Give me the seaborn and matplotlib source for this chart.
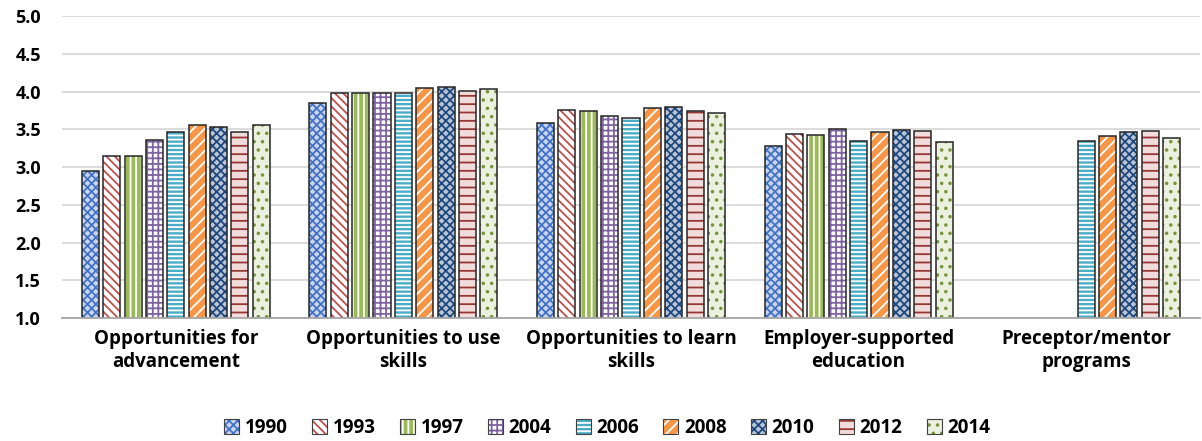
import numpy as np
import pandas as pd
import seaborn as sns
import matplotlib.pyplot as plt
from matplotlib.patches import Patch
from matplotlib.colors import to_rgba

# chart data
categories = ["Opportunities for\nadvancement", "Opportunities to use\nskills",
              "Opportunities to learn\nskills", "Employer-supported\neducation",
              "Preceptor/mentor\nprograms"]
years = ["1990", "1993", "1997", "2004", "2006", "2008", "2010", "2012", "2014"]
advancement = [2.95, 3.15, 3.15, 3.36, 3.47, 3.55, 3.53, 3.47, 3.56]
use_skills = [3.85, 3.98, 3.98, 3.98, 3.98, 4.04, 4.06, 4.01, 4.03]
learn_skills = [3.58, 3.75, 3.74, 3.67, 3.65, 3.78, 3.79, 3.74, 3.72]
employer_edu = [3.28, 3.44, 3.42, 3.50, 3.35, 3.46, 3.49, 3.48, 3.33]
mentor = [np.nan, np.nan, np.nan, np.nan, 3.34, 3.41, 3.46, 3.48, 3.39]

# look of each series: face colour, hatch colour, hatch
styles = {
    "1990": ("#C9D6EE", "#4472C4", "xxxx"),
    "1993": ("white", "#C0504D", "\\\\\\\\"),
    "1997": ("#9BBB59", "white", "|||"),
    "2004": ("white", "#8064A2", "+++"),
    "2006": ("#4BACC6", "white", "----"),
    "2008": ("#F79646", "white", "///"),
    "2010": ("#B9C6D9", "#1F497D", "xxxx"),
    "2012": ("#F2DCDB", "#953735", "--"),
    "2014": ("#EBF1DE", "#77933C", ".."),
}

rows = []
for cat, vals in zip(categories, [advancement, use_skills, learn_skills, employer_edu, mentor]):
    for y, v in zip(years, vals):
        rows.append({"category": cat, "year": y, "score": v})
df = pd.DataFrame(rows)

sns.set_style("white")
plt.rcParams["font.family"] = ["Open Sans", "DejaVu Sans"]
plt.rcParams["hatch.linewidth"] = 1.3
plt.rcParams["text.color"] = "black"
plt.rcParams["xtick.color"] = "black"
plt.rcParams["ytick.color"] = "black"

fig = plt.figure(figsize=(12.02, 4.41), dpi=100)
ax = fig.add_axes([62 / 1202, 1 - 318 / 441, 1138 / 1202, 302 / 441])

palette = {y: styles[y][0] for y in years}
sns.barplot(data=df, x="category", y="score", hue="year", order=categories,
            hue_order=years, palette=palette, width=0.845, gap=0.2,
            edgecolor="#262626", linewidth=1.1, legend=False, ax=ax)

for cont, y in zip(ax.containers, years):
    fc, hc, hatch = styles[y]
    for bar in cont:
        bar.set_facecolor(fc)
        bar.set_hatch(hatch)
        bar._hatch_color = to_rgba(hc)

ax.set_ylim(1.0, 5.0)
ax.set_yticks(np.arange(1.0, 5.01, 0.5))
ax.set_yticklabels([f"{t:.1f}" for t in np.arange(1.0, 5.01, 0.5)],
                   fontsize=13, fontweight="bold")
ax.set_xlim(-0.5, len(categories) - 0.5)
ax.tick_params(axis="x", labelsize=13.5, length=0, pad=8)
for lbl in ax.get_xticklabels():
    lbl.set_fontweight("bold")
ax.tick_params(axis="y", length=0, pad=15)
ax.set_xlabel("")
ax.set_ylabel("")
ax.grid(axis="y", color="#D9D9D9", linewidth=1.3)
ax.set_axisbelow(True)
for s in ["top", "right", "left"]:
    ax.spines[s].set_visible(False)
ax.spines["bottom"].set_color("#A6A6A6")
ax.spines["bottom"].set_linewidth(1.3)

handles = []
for y in years:
    fc, hc, hatch = styles[y]
    h = Patch(facecolor=fc, edgecolor="#404040", hatch=hatch, linewidth=0.8, label=y)
    h._hatch_color = to_rgba(hc)
    handles.append(h)
fig.legend(handles=handles, loc="center", bbox_to_anchor=(0.505, 1 - 428 / 441),
           ncol=9, frameon=False, handlelength=0.8, handleheight=0.8,
           handletextpad=0.3, columnspacing=1.3,
           prop={"weight": "bold", "size": 13.5})

fig.savefig("out.png", dpi=100)
